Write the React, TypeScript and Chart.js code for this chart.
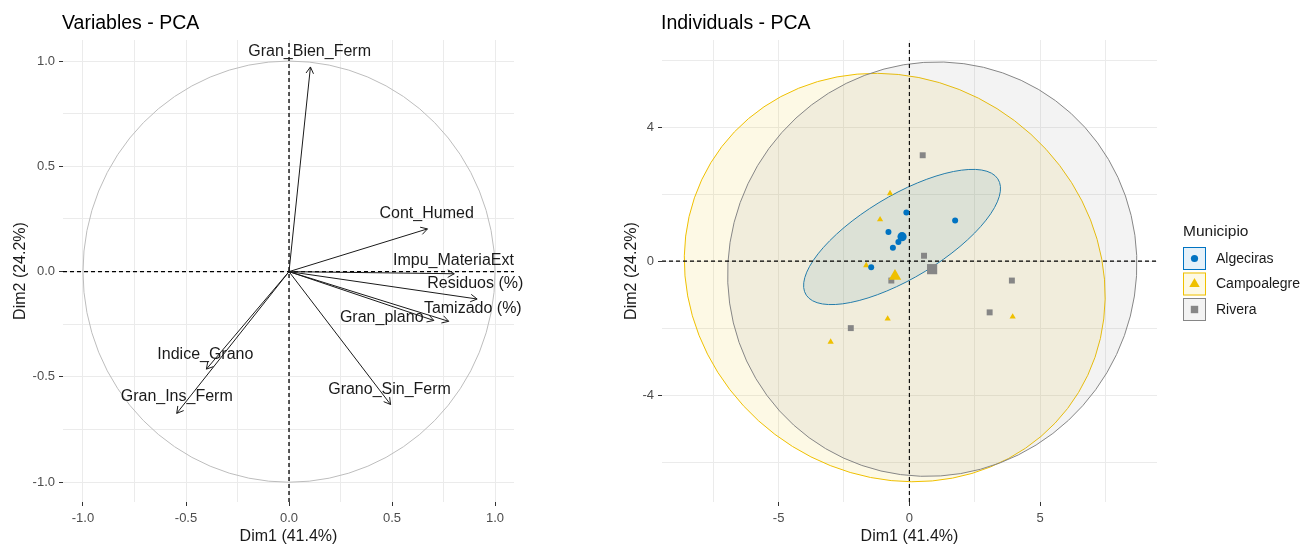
import React, { useEffect, useRef } from 'react';
import { Chart, registerables } from 'chart.js';

Chart.register(...registerables);

const FONT = '"Liberation Sans", Arial, Helvetica, sans-serif';

// ---------------- Variables - PCA ----------------
const varNames = [
  'Gran_Bien_Ferm',
  'Cont_Humed',
  'Impu_MateriaExt',
  'Residuos (%)',
  'Tamizado (%)',
  'Gran_plano',
  'Grano_Sin_Ferm',
  'Indice_Grano',
  'Gran_Ins_Ferm',
];
const varDim1 = [0.104, 0.672, 0.802, 0.913, 0.775, 0.703, 0.493, -0.401, -0.545];
const varDim2 = [0.972, 0.203, -0.01, -0.13, -0.236, -0.232, -0.631, -0.463, -0.673];
const varLabelDim1 = [0.1, 0.668, 0.798, 0.904, 0.892, 0.45, 0.488, -0.406, -0.545];
const varLabelDim2 = [1.046, 0.276, 0.053, -0.059, -0.174, -0.219, -0.562, -0.395, -0.593];
const varGridTicks = [-1, -0.75, -0.5, -0.25, 0, 0.25, 0.5, 0.75, 1];
const varTickValues = [-1, -0.5, 0, 0.5, 1];
const varTickLabels = ['-1.0', '-0.5', '0.0', '0.5', '1.0'];
const varXRange = [-1.097, 1.092];
const varYRange = [-1.094, 1.1];

// ---------------- Individuals - PCA ----------------
const groupNames = ['Algeciras', 'Campoalegre', 'Rivera'];
const groupColors = ['#0073C2', '#EFC000', '#868686'];
const groupFills = ['rgba(0,115,194,0.1)', 'rgba(239,192,0,0.1)', 'rgba(134,134,134,0.1)'];
const groupShapes = ['circle', 'triangle', 'rect'];

const algecirasDim1 = [-0.115, 1.75, -0.8, -0.63, -0.42, -1.46];
const algecirasDim2 = [1.45, 1.21, 0.87, 0.4, 0.57, -0.18];
const campoalegreDim1 = [-0.74, -1.12, -1.65, -0.83, -3.01, 3.95];
const campoalegreDim2 = [2.02, 1.24, -0.13, -1.72, -2.41, -1.66];
const riveraDim1 = [0.51, 0.56, 3.92, 3.07, -2.24, -0.69];
const riveraDim2 = [3.16, 0.16, -0.58, -1.53, -2.0, -0.58];

const centroidDim1 = [-0.28, -0.55, 0.87];
const centroidDim2 = [0.73, -0.45, -0.24];

const ellipseCenterX = [-0.28, -0.56, 0.875];
const ellipseCenterY = [0.72, -0.49, -0.24];
const ellipseSemiMajor = [4.07, 8.09, 7.83];
const ellipseSemiMinor = [1.3, 6.04, 6.18];
const ellipseAngleDeg = [23.6, -8.8, 3.0];

const indXGridTicks = [-7.5, -5, -2.5, 0, 2.5, 5, 7.5];
const indXTickValues = [-5, 0, 5];
const indXTickLabels = ['-5', '0', '5'];
const indYGridTicks = [-6, -4, -2, 0, 2, 4, 6];
const indYTickValues = [-4, 0, 4];
const indYTickLabels = ['-4', '0', '4'];
const indXRange = [-9.46, 9.47];
const indYRange = [-7.19, 6.6];

const groupDim1 = [algecirasDim1, campoalegreDim1, riveraDim1];
const groupDim2 = [algecirasDim2, campoalegreDim2, riveraDim2];

function axis(
  pos: 'bottom' | 'left',
  range: number[],
  gridTicks: number[],
  tickValues: number[],
  tickLabels: string[],
  title: string,
  size: number,
  titlePad: number,
  labelPad: number
): any {
  return {
    type: 'linear',
    position: pos,
    min: range[0],
    max: range[1],
    afterBuildTicks: (s: any) => {
      s.ticks = gridTicks.map((v) => ({ value: v }));
    },
    afterFit: (s: any) => {
      if (pos === 'bottom') s.height = size;
      else s.width = size;
    },
    border: { display: false },
    grid: {
      color: '#EBEBEB',
      lineWidth: 1,
      drawTicks: true,
      tickLength: 4,
      tickWidth: 1,
      tickColor: (ctx: any) =>
        ctx.tick && tickValues.indexOf(ctx.tick.value) >= 0 ? '#333333' : 'rgba(0,0,0,0)',
    },
    ticks: {
      autoSkip: false,
      maxRotation: 0,
      minRotation: 0,
      padding: labelPad,
      color: '#4D4D4D',
      font: { family: FONT, size: 13 },
      callback: (v: number) => {
        const i = tickValues.indexOf(v);
        return i >= 0 ? tickLabels[i] : '';
      },
    },
    title: {
      display: true,
      text: title,
      color: '#1A1A1A',
      font: { family: FONT, size: 16, lineHeight: 1 },
      padding: { top: titlePad, bottom: titlePad },
    },
  };
}

function titlePlugin(text: string) {
  return {
    id: 'panelTitle',
    afterDraw(chart: any) {
      const { ctx, chartArea } = chart;
      ctx.save();
      ctx.font = `19.5px ${FONT}`;
      ctx.fillStyle = '#000000';
      ctx.textAlign = 'left';
      ctx.textBaseline = 'alphabetic';
      ctx.fillText(text, chartArea.left - 1, 29);
      ctx.restore();
    },
  };
}

function dashedLine(data: { x: number; y: number }[], width: number) {
  return {
    data,
    showLine: true,
    borderColor: '#000000',
    borderWidth: width,
    borderDash: [4, 3],
    pointRadius: 0,
    fill: false,
    order: 5,
  };
}

function buildVarConfig(): any {
  const arrows = varNames.map((n, i) => ({
    label: n,
    data: [
      { x: 0, y: 0 },
      { x: varDim1[i], y: varDim2[i] },
    ],
    showLine: true,
    borderColor: '#1A1A1A',
    borderWidth: 1,
    pointRadius: 0,
    fill: false,
    order: 1,
  }));

  const circlePlugin = {
    id: 'unitCircle',
    beforeDatasetsDraw(chart: any) {
      const { ctx, chartArea, scales } = chart;
      const x = scales.x;
      const y = scales.y;
      const cx = x.getPixelForValue(0);
      const cy = y.getPixelForValue(0);
      const rx = x.getPixelForValue(1) - cx;
      const ry = cy - y.getPixelForValue(1);
      ctx.save();
      ctx.beginPath();
      ctx.rect(chartArea.left, chartArea.top, chartArea.right - chartArea.left, chartArea.bottom - chartArea.top);
      ctx.clip();
      ctx.beginPath();
      ctx.ellipse(cx, cy, rx, ry, 0, 0, Math.PI * 2);
      ctx.strokeStyle = '#BDBDBD';
      ctx.lineWidth = 1;
      ctx.stroke();
      ctx.restore();
    },
  };

  const arrowPlugin = {
    id: 'arrowsAndLabels',
    afterDatasetsDraw(chart: any) {
      const { ctx, scales } = chart;
      const x = scales.x;
      const y = scales.y;
      ctx.save();
      ctx.strokeStyle = '#1A1A1A';
      ctx.lineWidth = 1;
      for (let i = 0; i < varNames.length; i++) {
        const x0 = x.getPixelForValue(0);
        const y0 = y.getPixelForValue(0);
        const x1 = x.getPixelForValue(varDim1[i]);
        const y1 = y.getPixelForValue(varDim2[i]);
        const ang = Math.atan2(y1 - y0, x1 - x0);
        const len = 7.5;
        const spread = Math.PI / 6;
        ctx.beginPath();
        ctx.moveTo(x1 - len * Math.cos(ang - spread), y1 - len * Math.sin(ang - spread));
        ctx.lineTo(x1, y1);
        ctx.lineTo(x1 - len * Math.cos(ang + spread), y1 - len * Math.sin(ang + spread));
        ctx.stroke();
      }
      ctx.font = `16px ${FONT}`;
      ctx.fillStyle = '#1A1A1A';
      ctx.textAlign = 'center';
      ctx.textBaseline = 'middle';
      for (let i = 0; i < varNames.length; i++) {
        ctx.fillText(varNames[i], x.getPixelForValue(varLabelDim1[i]), y.getPixelForValue(varLabelDim2[i]));
      }
      ctx.restore();
    },
  };

  return {
    type: 'scatter',
    data: {
      datasets: [
        ...arrows,
        dashedLine(
          [
            { x: varXRange[0], y: 0 },
            { x: varXRange[1], y: 0 },
          ],
          1.1
        ),
        dashedLine(
          [
            { x: 0, y: varYRange[0] },
            { x: 0, y: varYRange[1] },
          ],
          1.3
        ),
      ],
    },
    options: {
      responsive: false,
      animation: false,
      devicePixelRatio: 1,
      events: [],
      layout: { autoPadding: false, padding: { left: 0, right: 86, top: 40, bottom: 0 } },
      plugins: { legend: { display: false }, tooltip: { enabled: false }, title: { display: false } },
      scales: {
        x: axis('bottom', varXRange, varGridTicks, varTickValues, varTickLabels, 'Dim1 (41.4%)', 43, 0, 5),
        y: axis('left', varYRange, varGridTicks, varTickValues, varTickLabels, 'Dim2 (24.2%)', 63, 13, 4),
      },
    },
    plugins: [circlePlugin, arrowPlugin, titlePlugin('Variables - PCA')],
  };
}

function buildIndConfig(): any {
  const pointSets = groupNames.map((g, gi) => ({
    label: g,
    data: groupDim1[gi].map((v, i) => ({ x: v, y: groupDim2[gi][i] })),
    pointStyle: groupShapes[gi],
    pointRadius: gi === 0 ? 3 : gi === 1 ? 3.6 : 4.2,
    backgroundColor: groupColors[gi],
    pointBackgroundColor: groupColors[gi],
    borderWidth: 0,
    pointBorderWidth: 0,
    showLine: false,
    order: 2,
  }));
  const centroidSets = groupNames.map((g, gi) => ({
    label: g + ' centroid',
    data: [{ x: centroidDim1[gi], y: centroidDim2[gi] }],
    pointStyle: groupShapes[gi],
    pointRadius: gi === 0 ? 4.6 : gi === 1 ? 7.2 : 7.2,
    backgroundColor: groupColors[gi],
    pointBackgroundColor: groupColors[gi],
    borderWidth: 0,
    pointBorderWidth: 0,
    showLine: false,
    order: 1,
  }));

  const ellipsePlugin = {
    id: 'groupEllipses',
    beforeDatasetsDraw(chart: any) {
      const { ctx, chartArea, scales } = chart;
      const x = scales.x;
      const y = scales.y;
      const sx = x.getPixelForValue(1) - x.getPixelForValue(0);
      const sy = y.getPixelForValue(0) - y.getPixelForValue(1);
      ctx.save();
      ctx.beginPath();
      ctx.rect(chartArea.left, chartArea.top, chartArea.right - chartArea.left, chartArea.bottom - chartArea.top);
      ctx.clip();
      for (let g = 0; g < groupNames.length; g++) {
        ctx.save();
        ctx.translate(x.getPixelForValue(ellipseCenterX[g]), y.getPixelForValue(ellipseCenterY[g]));
        ctx.scale(sx, -sy);
        ctx.rotate((ellipseAngleDeg[g] * Math.PI) / 180);
        ctx.beginPath();
        ctx.ellipse(0, 0, ellipseSemiMajor[g], ellipseSemiMinor[g], 0, 0, Math.PI * 2);
        ctx.restore();
        ctx.fillStyle = groupFills[g];
        ctx.fill();
        ctx.strokeStyle = groupColors[g];
        ctx.lineWidth = 1;
        ctx.stroke();
      }
      ctx.restore();
    },
  };

  const legendPlugin = {
    id: 'municipioLegend',
    afterDraw(chart: any) {
      const { ctx, chartArea } = chart;
      const left = chartArea.right + 26;
      ctx.save();
      ctx.font = `15.5px ${FONT}`;
      ctx.fillStyle = '#1A1A1A';
      ctx.textAlign = 'left';
      ctx.textBaseline = 'middle';
      ctx.fillText('Municipio', left, 232);
      const box = 23;
      const tops = [247, 272.5, 298];
      for (let g = 0; g < groupNames.length; g++) {
        const top = tops[g];
        ctx.fillStyle = '#FFFFFF';
        ctx.fillRect(left, top, box, box);
        ctx.fillStyle = groupFills[g];
        ctx.fillRect(left, top, box, box);
        ctx.strokeStyle = groupColors[g];
        ctx.lineWidth = 1;
        ctx.strokeRect(left + 0.5, top + 0.5, box - 1, box - 1);
        const cx = left + box / 2;
        const cy = top + box / 2;
        ctx.fillStyle = groupColors[g];
        ctx.beginPath();
        if (groupShapes[g] === 'circle') {
          ctx.arc(cx, cy, 3.6, 0, Math.PI * 2);
        } else if (groupShapes[g] === 'triangle') {
          const r = 6;
          ctx.moveTo(cx, cy - r);
          ctx.lineTo(cx + r * 0.866, cy + r * 0.5);
          ctx.lineTo(cx - r * 0.866, cy + r * 0.5);
          ctx.closePath();
        } else {
          ctx.rect(cx - 3.7, cy - 3.7, 7.4, 7.4);
        }
        ctx.fill();
        ctx.font = `14px ${FONT}`;
        ctx.fillStyle = '#1A1A1A';
        ctx.fillText(groupNames[g], left + 33, cy + 0.5);
      }
      ctx.restore();
    },
  };

  return {
    type: 'scatter',
    data: {
      datasets: [
        dashedLine(
          [
            { x: indXRange[0], y: 0 },
            { x: indXRange[1], y: 0 },
          ],
          1.1
        ),
        dashedLine(
          [
            { x: 0, y: indYRange[0] },
            { x: 0, y: indYRange[1] },
          ],
          1.1
        ),
        ...pointSets,
        ...centroidSets,
      ],
    },
    options: {
      responsive: false,
      animation: false,
      devicePixelRatio: 1,
      events: [],
      layout: { autoPadding: false, padding: { left: 0, right: 145, top: 40, bottom: 0 } },
      plugins: { legend: { display: false }, tooltip: { enabled: false }, title: { display: false } },
      scales: {
        x: axis('bottom', indXRange, indXGridTicks, indXTickValues, indXTickLabels, 'Dim1 (41.4%)', 43, 0, 5),
        y: axis('left', indYRange, indYGridTicks, indYTickValues, indYTickLabels, 'Dim2 (24.2%)', 62, 24, 4),
      },
    },
    plugins: [ellipsePlugin, legendPlugin, titlePlugin('Individuals - PCA')],
  };
}

export default function App() {
  const leftRef = useRef<HTMLCanvasElement>(null);
  const rightRef = useRef<HTMLCanvasElement>(null);

  useEffect(() => {
    const c1 = new Chart(leftRef.current as HTMLCanvasElement, buildVarConfig());
    const c2 = new Chart(rightRef.current as HTMLCanvasElement, buildIndConfig());
    return () => {
      c1.destroy();
      c2.destroy();
    };
  }, []);

  return (
    <div style={{ position: 'absolute', left: 0, top: 0, width: 1302, height: 545, background: '#FFFFFF' }}>
      <canvas ref={leftRef} width={600} height={545} style={{ position: 'absolute', left: 0, top: 0 }} />
      <canvas ref={rightRef} width={702} height={545} style={{ position: 'absolute', left: 600, top: 0 }} />
    </div>
  );
}
